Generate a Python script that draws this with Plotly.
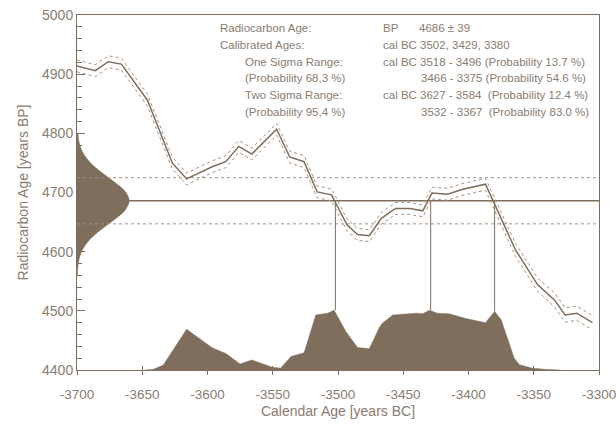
import plotly.graph_objects as go

# ---------------- data ----------------
# calibration curve (calendar year BC as negative, radiocarbon age BP)
cal_year = [-3700, -3686, -3676, -3666, -3646, -3635, -3627, -3616, -3596, -3586,
            -3576, -3566, -3547, -3537, -3526, -3516, -3505, -3493, -3485, -3476,
            -3467, -3456, -3445, -3435, -3428, -3416, -3405, -3387, -3382, -3378,
            -3364, -3347, -3334, -3326, -3317, -3305]
cal_age = [4914, 4906, 4921, 4917, 4856, 4794, 4750, 4723, 4744, 4752,
           4778, 4765, 4807, 4760, 4752, 4701, 4696, 4645, 4629, 4627,
           4656, 4673, 4673, 4669, 4699, 4697, 4705, 4714, 4690, 4670,
           4603, 4544, 4518, 4493, 4496, 4480]
cal_err = [10, 10, 10, 10, 10, 10, 10, 10, 10, 10,
           10, 10, 10, 10, 10, 10, 10, 10, 10, 10,
           10, 10, 10, 10, 10, 10, 10, 10, 10, 10,
           11, 11, 12, 12, 12, 12]

# measured radiocarbon age
c14_age = 4686
c14_err = 39

# measured-age distribution on the y axis (age BP, width in years)
gauss_age = [4800, 4790, 4780, 4770, 4760, 4750, 4740, 4730, 4720, 4710, 4700, 4686,
             4670, 4660, 4650, 4640, 4630, 4620, 4610, 4600, 4590, 4580, 4570, 4560]
gauss_width = [0.6, 1.1, 2.2, 3.9, 6.6, 10.4, 15.3, 21.2, 27.4, 33.1, 37.5, 40.0,
               36.8, 32.0, 26.1, 20.0, 14.3, 9.6, 6.0, 3.5, 1.9, 1.0, 0.5, 0.2]

# calibrated probability distribution (calendar year, height above 4400)
dist_year = [-3648, -3642, -3634, -3625, -3616, -3601, -3596, -3586, -3575, -3566,
             -3558, -3551, -3544, -3536, -3526, -3522, -3517, -3508, -3503, -3494,
             -3485, -3476, -3468, -3466, -3458, -3440, -3435, -3430, -3424, -3415,
             -3402, -3387, -3380, -3375, -3370, -3365, -3361, -3351, -3340, -3330]
dist_height = [0, 1, 8, 39, 69, 45, 37, 28, 10, 17,
               10, 5, 3, 23, 29, 57, 93, 96, 101, 65,
               38, 36, 73, 79, 93, 96, 95, 101, 96, 95,
               87, 80, 99, 85, 51, 20, 9, 3, 1, 0]

# calibrated ages (intercepts) and the peak height they reach
intercept_year = [-3502, -3429, -3380]
intercept_top = [101, 101, 99]

x_tick_vals = [-3700, -3650, -3600, -3550, -3500, -3450, -3400, -3350, -3300]
x_tick_labels = ["-3700", "-3650", "-3600", "-3550", "-3500", "-3450", "-3400", "-3350", "-3300"]
y_tick_vals = [4400, 4500, 4600, 4700, 4800, 4900, 5000]

info_left = ["Radiocarbon Age:", "Calibrated Ages:", "One Sigma Range:",
             "(Probability 68,3 %)", "Two Sigma Range:", "(Probability 95,4 %)"]
info_right = ["BP", "cal BC 3502, 3429, 3380", "cal BC 3518 - 3496 (Probability 13.7 %)",
              "3466 - 3375 (Probability 54.6 %)",
              "cal BC 3627 - 3584\u00a0\u00a0(Probability 12.4 %)",
              "3532 - 3367\u00a0\u00a0(Probability 83.0 %)"]
info_value = "4686 ± 39"

# ---------------- style ----------------
BROWN = "#7f6e5c"
TEXT = "#8a7c6f"
DOT = "#a09385"
FONT = "Liberation Sans, Arial, sans-serif"
Y0 = 4400
X0 = -3700

fig = go.Figure()

# y-axis gaussian
fig.add_trace(go.Scatter(
    x=[X0] + [X0 + w for w in gauss_width] + [X0],
    y=[gauss_age[0]] + gauss_age + [gauss_age[-1]],
    mode="lines", fill="toself", fillcolor=BROWN,
    line=dict(color=BROWN, width=0.5, shape="spline"), hoverinfo="skip"))

# calibrated distribution
fig.add_trace(go.Scatter(
    x=[dist_year[0]] + dist_year + [dist_year[-1]],
    y=[Y0] + [Y0 + h for h in dist_height] + [Y0],
    mode="lines", fill="toself", fillcolor=BROWN,
    line=dict(color=BROWN, width=0.5), hoverinfo="skip"))

# horizontal lines of measured age
fig.add_trace(go.Scatter(x=[-3700, -3300], y=[c14_age, c14_age], mode="lines",
                         line=dict(color=BROWN, width=1.5)))
for s in (1, -1):
    fig.add_trace(go.Scatter(x=[-3700, -3300], y=[c14_age + s * c14_err] * 2, mode="lines",
                             line=dict(color=DOT, width=1, dash="dot")))

# vertical intercept lines
for yr, top in zip(intercept_year, intercept_top):
    fig.add_trace(go.Scatter(x=[yr, yr], y=[c14_age, Y0 + top], mode="lines",
                             line=dict(color=BROWN, width=1)))

# calibration curve envelope and curve
fig.add_trace(go.Scatter(x=cal_year, y=[a + e for a, e in zip(cal_age, cal_err)], mode="lines",
                         line=dict(color=DOT, width=1, dash="dot")))
fig.add_trace(go.Scatter(x=cal_year, y=[a - e for a, e in zip(cal_age, cal_err)], mode="lines",
                         line=dict(color=DOT, width=1, dash="dot")))
fig.add_trace(go.Scatter(x=cal_year, y=cal_age, mode="lines",
                         line=dict(color=BROWN, width=1.5)))

# text block
L, T, B, R = 77, 15, 370, 599
W, H = R - L, B - T
row_y = [28.3, 45, 61.7, 78.3, 95, 111.7]
left_x = [218, 218, 243, 243, 243, 243]
right_x = [381, 381, 381, 419, 381, 419]
ann = []
for i in range(6):
    yp = (B - row_y[i]) / H
    ann.append(dict(x=(left_x[i] - L) / W, y=yp, xref="paper", yref="paper",
                    text=info_left[i], showarrow=False, xanchor="left", yanchor="middle",
                    font=dict(family=FONT, size=11.5, color=TEXT)))
    ann.append(dict(x=(right_x[i] - L) / W, y=yp, xref="paper", yref="paper",
                    text=info_right[i], showarrow=False, xanchor="left", yanchor="middle",
                    font=dict(family=FONT, size=11.5, color=TEXT)))
ann.append(dict(x=(417 - L) / W, y=(B - row_y[0]) / H, xref="paper", yref="paper",
                text=info_value, showarrow=False, xanchor="left", yanchor="middle",
                font=dict(family=FONT, size=11.5, color=TEXT)))

fig.update_layout(
    width=616, height=428,
    margin=dict(l=L, r=616 - R, t=T, b=428 - B, autoexpand=False),
    paper_bgcolor="white", plot_bgcolor="white",
    showlegend=False,
    font=dict(family=FONT, color=TEXT, size=14),
    annotations=ann,
    xaxis=dict(range=[-3700, -3300], tickvals=x_tick_vals, ticktext=x_tick_labels,
               ticks="outside", ticklen=4, tickcolor=BROWN, tickwidth=1,
               ticklabelstandoff=8, ticklabeloverflow="allow",
               showline=True, linecolor=BROWN, linewidth=1, mirror=True,
               showgrid=False, zeroline=False, automargin=False,
               tickfont=dict(size=13.5, color=TEXT),
               title=dict(text="Calendar Age [years BC]", font=dict(size=14, color=TEXT), standoff=4)),
    xaxis2=dict(range=[-3700, -3300], overlaying="x", side="bottom", tickvals=x_tick_vals,
                ticks="inside", ticklen=4, tickcolor=BROWN, showticklabels=False,
                showline=False, showgrid=False, zeroline=False, automargin=False),
    yaxis=dict(range=[4400, 5000], tickvals=y_tick_vals,
               ticks="inside", ticklen=8, tickcolor=BROWN, tickwidth=1,
               minor=dict(dtick=20, ticks="inside", ticklen=5, tickcolor=BROWN, showgrid=False),
               showline=True, linecolor=BROWN, linewidth=1, mirror=True,
               showgrid=False, zeroline=False, automargin=False,
               tickfont=dict(size=14, color=TEXT),
               title=dict(text="Radiocarbon Age [years BP]", font=dict(size=14, color=TEXT), standoff=10)),
)
# dummy trace to activate xaxis2
fig.add_trace(go.Scatter(x=[-3700], y=[4400], xaxis="x2", mode="markers",
                         marker=dict(size=0.1, color="rgba(0,0,0,0)"), hoverinfo="skip"))

fig.write_html("out.html", config={"displayModeBar": False},
               post_script="document.body.style.margin='0';document.body.style.overflow='hidden';")
